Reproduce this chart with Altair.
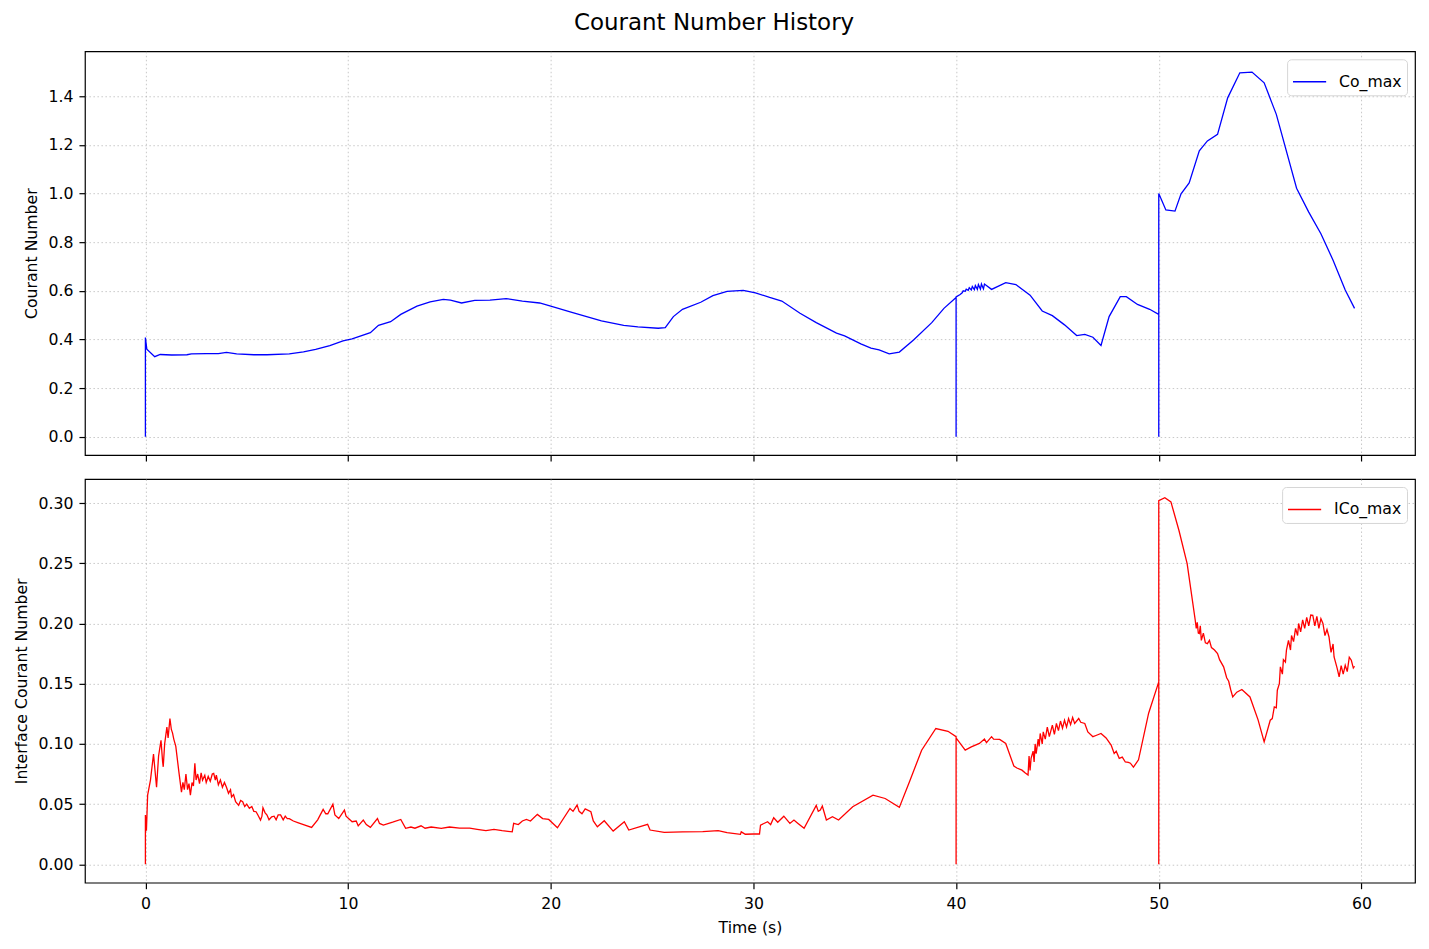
import altair as alt
import pandas as pd

FONT = "DejaVu Sans"

# ---- Co_max (top panel) ----
T_CO = [0, 0, 0.07, 0.46, 0.73, 1.3, 2.05, 2.27, 3.0, 3.6, 4.0, 4.5, 5.35, 6.0, 7.1, 7.8,
        8.4, 9.1, 9.75, 10.2, 11.1, 11.5, 12.1, 12.6, 13.4, 14.05, 14.7, 15.05, 15.6, 16.25,
        17.0, 17.8, 18.6, 19.45, 20.0, 21.0, 21.9, 22.5, 23.6, 24.3, 25.3, 25.65, 26.05,
        26.5, 27.4, 28.0, 28.7, 29.5, 30.1, 30.8, 31.4, 32.3, 33.1, 34.1, 34.5, 35.3, 35.8,
        36.2, 36.7, 37.2, 37.9, 38.8, 39.4, 40.0, 40.0, 40.0,
        40.2, 40.3, 40.35, 40.45, 40.5, 40.6, 40.65, 40.75, 40.8, 40.9, 40.95, 41.05, 41.1,
        41.2, 41.25, 41.35, 41.4, 41.75, 42.45, 42.95, 43.65, 44.25, 44.75, 45.35, 45.95,
        46.35, 46.75, 47.15, 47.55, 48.1, 48.4, 48.95, 49.55, 50.0, 50.0, 50.0, 50.35, 50.8,
        51.1, 51.5, 52.0, 52.4, 52.9, 53.4, 54.0, 54.6, 55.2, 55.8, 56.8, 57.4, 58.0, 58.6,
        59.2, 59.66]
CO = [0.0, 0.408, 0.36, 0.329, 0.338, 0.336, 0.337, 0.341, 0.342, 0.342, 0.347, 0.341, 0.337,
      0.337, 0.341, 0.349, 0.359, 0.375, 0.394, 0.402, 0.428, 0.458, 0.473, 0.503, 0.537,
      0.555, 0.565, 0.562, 0.55, 0.561, 0.562, 0.568, 0.558, 0.55, 0.537, 0.512, 0.491,
      0.476, 0.458, 0.452, 0.446, 0.449, 0.494, 0.524, 0.553, 0.58, 0.598, 0.602, 0.592,
      0.573, 0.558, 0.508, 0.469, 0.426, 0.415, 0.382, 0.364, 0.357, 0.341, 0.348, 0.398,
      0.469, 0.528, 0.573, 0.0, 0.575,
      0.585, 0.592, 0.600, 0.598, 0.607, 0.602, 0.613, 0.604, 0.618, 0.605, 0.622, 0.606,
      0.626, 0.607, 0.628, 0.608, 0.628, 0.606, 0.634, 0.626, 0.582, 0.517, 0.498, 0.46,
      0.416, 0.421, 0.409, 0.375, 0.494, 0.576, 0.576, 0.544, 0.524, 0.503, 0.0, 1.0,
      0.933, 0.928, 0.999, 1.044, 1.176, 1.217, 1.244, 1.394, 1.497, 1.50, 1.456, 1.326,
      1.022, 0.924, 0.835, 0.726, 0.603, 0.528]

# ---- ICo_max (bottom panel) ----
T_ICO = [0, 0, 0.05, 0.11, 0.25, 0.4, 0.55, 0.65, 0.77, 0.85, 0.88, 0.95, 1.06, 1.12, 1.21,
         1.28, 1.34, 1.4, 1.5, 1.65, 1.78, 1.85, 1.92, 2.0, 2.08, 2.15, 2.22, 2.3, 2.37, 2.44,
         2.5, 2.58, 2.67, 2.75, 2.82, 2.93, 3.0, 3.1, 3.2, 3.3, 3.37, 3.45, 3.5, 3.6, 3.7,
         3.8, 3.9, 4.0, 4.1, 4.2, 4.25, 4.35, 4.45, 4.6, 4.7, 4.8, 4.9, 5.0, 5.13, 5.25,
         5.35, 5.46, 5.55, 5.68, 5.75, 5.8, 5.9, 6.0, 6.1, 6.23, 6.35, 6.45, 6.55, 6.67,
         6.8, 6.9, 7.0, 7.1, 7.3, 7.55, 7.8, 8.2, 8.5, 8.77, 8.9, 9.0, 9.25, 9.35, 9.54,
         9.82, 9.9, 10.2, 10.4, 10.5, 10.75, 10.9, 11.1, 11.45, 11.55, 11.74, 12.2, 12.6,
         12.84, 13.1, 13.3, 13.6, 13.8, 14.1, 14.6, 15.0, 15.5, 16.0, 16.37, 16.8, 17.2,
         17.6, 18.1, 18.17, 18.4, 18.6, 18.8, 19.0, 19.34, 19.6, 19.9, 20.33, 20.95, 21.1,
         21.3, 21.4, 21.54, 21.7, 21.98, 22.1, 22.3, 22.64, 23.08, 23.63, 23.85, 24.78,
         24.9, 25.6, 26.5, 27.5, 28.26, 28.7, 29.36, 29.4, 29.6, 30.0, 30.3, 30.35, 30.7,
         30.85, 31.0, 31.2, 31.5, 31.8, 32.0, 32.2, 32.5, 33.1, 33.2, 33.3, 33.4, 33.6,
         33.9, 34.2, 34.9, 35.9, 36.5, 37.2, 37.7, 38.3, 39.0, 39.6, 40.0, 40.0, 40.0,
         40.45, 40.75, 41.15, 41.4, 41.5, 41.75, 41.85, 42.15, 42.45, 42.85, 43.0, 43.25,
         43.4, 43.55, 43.6, 43.65, 43.7, 43.8, 43.85, 43.9, 43.95, 44.05, 44.1, 44.15,
         44.25, 44.3, 44.4, 44.5, 44.6, 44.75, 44.85, 44.95, 45.05, 45.15, 45.25, 45.35,
         45.45, 45.55, 45.65, 45.75, 45.85, 46.05, 46.15, 46.35, 46.5, 46.75, 46.9, 47.15,
         47.4, 47.65, 47.8, 47.9, 48.05, 48.2, 48.35, 48.5, 48.6, 48.75, 49.0, 49.5, 50.0,
         50.0, 50.0, 50.3, 50.6, 51.0, 51.4, 51.8, 51.85, 51.9, 51.95, 52.0, 52.05, 52.1,
         52.2, 52.3, 52.4, 52.5, 52.6, 52.75, 52.9, 53.0, 53.2, 53.35, 53.45, 53.55, 53.65,
         53.85, 54.1, 54.5, 54.9, 55.2, 55.5, 55.6, 55.7, 55.8, 55.85, 55.95, 56.0, 56.1,
         56.15, 56.25, 56.3, 56.4, 56.5, 56.55, 56.65, 56.75, 56.85, 56.9, 57.0, 57.1, 57.2,
         57.3, 57.4, 57.5, 57.6, 57.7, 57.8, 57.9, 58.0, 58.1, 58.2, 58.3, 58.4, 58.5, 58.6,
         58.65, 58.8, 58.9, 59.0, 59.1, 59.2, 59.3, 59.4, 59.5, 59.6, 59.66]
ICO = [0.0, 0.041, 0.028, 0.0575, 0.07, 0.0915, 0.064, 0.09, 0.103, 0.085, 0.081, 0.1, 0.114,
       0.105, 0.121, 0.112, 0.109, 0.104, 0.098, 0.077, 0.06, 0.068, 0.062, 0.075, 0.062,
       0.067, 0.0575, 0.068, 0.065, 0.084, 0.07, 0.075, 0.067, 0.076, 0.07, 0.074, 0.068,
       0.073, 0.069, 0.075, 0.0755, 0.07, 0.074, 0.066, 0.07, 0.064, 0.068, 0.064, 0.059,
       0.062, 0.056, 0.058, 0.052, 0.049, 0.053, 0.052, 0.048, 0.05, 0.0465, 0.048, 0.044,
       0.0437, 0.041, 0.0368, 0.04, 0.047, 0.043, 0.041, 0.037, 0.0395, 0.04, 0.037, 0.041,
       0.041, 0.037, 0.04, 0.038, 0.038, 0.036, 0.0345, 0.033, 0.0307, 0.037, 0.0456, 0.042,
       0.042, 0.05, 0.041, 0.038, 0.045, 0.04, 0.0354, 0.036, 0.032, 0.0368, 0.033, 0.0307,
       0.038, 0.034, 0.0326, 0.035, 0.0373, 0.0299, 0.031, 0.03, 0.032, 0.03, 0.031, 0.0299,
       0.031, 0.03, 0.03, 0.029, 0.028, 0.029, 0.028, 0.027, 0.034, 0.033, 0.036, 0.0373,
       0.036, 0.0415, 0.038, 0.0373, 0.0304, 0.0464, 0.044, 0.0492, 0.044, 0.042, 0.046,
       0.0437, 0.036, 0.0312, 0.0362, 0.0276, 0.0354, 0.0285, 0.0332, 0.0285, 0.0265, 0.027,
       0.0272, 0.028, 0.0263, 0.0249, 0.027, 0.025, 0.0252, 0.0252, 0.0326, 0.0354, 0.033,
       0.0387, 0.035, 0.04, 0.034, 0.0368, 0.034, 0.0299, 0.049, 0.044, 0.045, 0.0484,
       0.0368, 0.0395, 0.0368, 0.0478, 0.0575, 0.0547, 0.0473, 0.0686, 0.0948, 0.1128,
       0.1105, 0.106, 0.0, 0.105, 0.0948, 0.0976, 0.1004, 0.104, 0.101, 0.106, 0.104,
       0.1037, 0.1004, 0.0816, 0.08, 0.0782, 0.076, 0.0741, 0.09, 0.078, 0.088, 0.094, 0.085,
       0.1, 0.092, 0.104, 0.098, 0.1087, 0.1, 0.11, 0.104, 0.114, 0.106, 0.1156, 0.108, 0.117,
       0.111, 0.119, 0.113, 0.1197, 0.114, 0.121, 0.116, 0.122, 0.117, 0.1211, 0.118, 0.117,
       0.11, 0.106, 0.107, 0.1087, 0.105, 0.099, 0.092, 0.094, 0.088, 0.089, 0.085, 0.0846,
       0.084, 0.0807, 0.0868, 0.1255, 0.1515, 0.0, 0.302, 0.3044, 0.301, 0.277, 0.2497,
       0.2027, 0.196, 0.201, 0.192, 0.1916, 0.198, 0.186, 0.192, 0.184, 0.1833, 0.186, 0.18,
       0.178, 0.175, 0.17, 0.164, 0.155, 0.152, 0.145, 0.139, 0.143, 0.1452, 0.139, 0.12,
       0.1017, 0.1197, 0.121, 0.1308, 0.13, 0.1446, 0.15, 0.164, 0.158, 0.17, 0.168, 0.178,
       0.186, 0.178, 0.19, 0.185, 0.196, 0.19, 0.2, 0.193, 0.203, 0.196, 0.205, 0.198, 0.207,
       0.2068, 0.198, 0.206, 0.196, 0.204, 0.2, 0.19, 0.195, 0.1888, 0.176, 0.183, 0.1722,
       0.163, 0.1556, 0.165, 0.158, 0.1653, 0.16, 0.172, 0.1695, 0.163, 0.1645]

X_TICKS = [0, 10, 20, 30, 40, 50, 60]
CO_TICKS = [0.0, 0.2, 0.4, 0.6, 0.8, 1.0, 1.2, 1.4]
ICO_TICKS = [0.0, 0.05, 0.10, 0.15, 0.20, 0.25, 0.30]

df_co = pd.DataFrame({"t": T_CO, "v": CO, "i": list(range(len(T_CO))), "s": "Co_max"})
df_ico = pd.DataFrame({"t": T_ICO, "v": ICO, "i": list(range(len(T_ICO))), "s": "ICo_max"})

X_DOMAIN = [-2.983, 62.643]
W, H = 1331, 404


def legend():
    return alt.Legend(
        title=None, orient="top-right", offset=8, symbolType="stroke",
        symbolSize=1100, symbolStrokeWidth=1.5, labelFontSize=15.7, labelFont=FONT,
        labelColor="black", padding=5, fillColor="white", strokeColor="#d6d6d6",
        cornerRadius=4, labelOffset=12,
    )


top = alt.Chart(df_co).mark_line(strokeWidth=1.3, clip=True).encode(
    x=alt.X("t:Q", scale=alt.Scale(domain=X_DOMAIN, nice=False, zero=False),
            axis=alt.Axis(values=X_TICKS, labels=False, title=None)),
    y=alt.Y("v:Q", scale=alt.Scale(domain=[-0.0755, 1.5855], nice=False, zero=False),
            axis=alt.Axis(values=CO_TICKS, format=".1f", title="Courant Number")),
    color=alt.Color("s:N", scale=alt.Scale(domain=["Co_max"], range=["#0000ff"]), legend=legend()),
    order=alt.Order("i:Q"),
).properties(width=W, height=H)

bottom = alt.Chart(df_ico).mark_line(strokeWidth=1.3, clip=True).encode(
    x=alt.X("t:Q", scale=alt.Scale(domain=X_DOMAIN, nice=False, zero=False),
            axis=alt.Axis(values=X_TICKS, format="d", title="Time (s)")),
    y=alt.Y("v:Q", scale=alt.Scale(domain=[-0.01525, 0.32], nice=False, zero=False),
            axis=alt.Axis(values=ICO_TICKS, format=".2f", title="Interface Courant Number")),
    color=alt.Color("s:N", scale=alt.Scale(domain=["ICo_max"], range=["#ff0000"]), legend=legend()),
    order=alt.Order("i:Q"),
).properties(width=W, height=H)

chart = alt.vconcat(top, bottom, spacing=15).resolve_scale(
    x="independent", y="independent", color="independent"
).resolve_legend(color="independent").properties(
    title=alt.TitleParams("Courant Number History", fontSize=23, font=FONT,
                          fontWeight="normal", color="black", anchor="middle", offset=16),
    padding={"left": 4, "top": 3, "right": 5, "bottom": 5},
    background="white",
).configure_view(
    stroke="black", strokeWidth=1.2
).configure_axis(
    domain=False, tickColor="black", tickSize=6, tickWidth=1.2,
    labelFont=FONT, labelFontSize=15.7, labelColor="black", labelPadding=6,
    titleFont=FONT, titleFontSize=15.7, titleFontWeight="normal", titleColor="black",
    titlePadding=9, grid=True, gridColor="#b0b0b0", gridDash=[1.5, 2.5], gridOpacity=0.7,
    gridWidth=1,
).configure_axisX(labelPadding=8)

chart.save("out.html", embed_options={"renderer": "svg", "actions": False})
